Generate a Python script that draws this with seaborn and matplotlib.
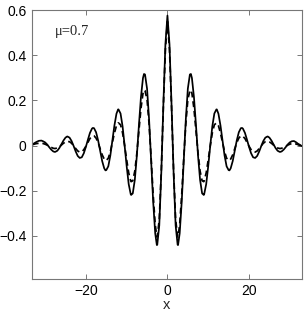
import matplotlib
matplotlib.use("Agg")
import matplotlib.pyplot as plt
import seaborn as sns
import pandas as pd

# values
x = [-33.0, -32.5, -32.0, -31.5, -31.0, -30.9, -30.5, -30.0, -29.5, -29.0, -28.5, -28.0, -27.7,
     -27.5, -27.0, -26.5, -26.0, -25.5, -25.0, -24.6, -24.5, -24.0, -23.5, -23.0, -22.5, -22.0,
     -21.5, -21.0, -20.5, -20.0, -19.5, -19.0, -18.5, -18.3, -18.0, -17.5, -17.0, -16.5, -16.0,
     -15.5, -15.2, -15.0, -14.5, -14.0, -13.5, -13.0, -12.5, -12.1, -12.0, -11.5, -11.0, -10.5,
     -10.0, -9.5, -9.0, -8.9, -8.5, -8.0, -7.5, -7.0, -6.5, -6.0, -5.75, -5.5, -5.0, -4.5, -4.0,
     -3.5, -3.0, -2.6, -2.5, -2.0, -1.5, -1.0, -0.5,
     0.0,
     0.5, 1.0, 1.5, 2.0, 2.5, 2.6, 3.0, 3.5, 4.0, 4.5, 5.0, 5.5, 5.75, 6.0, 6.5, 7.0, 7.5, 8.0,
     8.5, 8.9, 9.0, 9.5, 10.0, 10.5, 11.0, 11.5, 12.0, 12.1, 12.5, 13.0, 13.5, 14.0, 14.5, 15.0,
     15.2, 15.5, 16.0, 16.5, 17.0, 17.5, 18.0, 18.3, 18.5, 19.0, 19.5, 20.0, 20.5, 21.0, 21.5,
     22.0, 22.5, 23.0, 23.5, 24.0, 24.5, 24.6, 25.0, 25.5, 26.0, 26.5, 27.0, 27.5, 27.7, 28.0,
     28.5, 29.0, 29.5, 30.0, 30.5, 30.9, 31.0, 31.5, 32.0, 32.5, 33.0]

solid = [0.006, 0.012, 0.017, 0.021, 0.022, 0.022, 0.019, 0.014, 0.005, -0.007, -0.018, -0.026, -0.028,
         -0.028, -0.023, -0.011, 0.005, 0.022, 0.035, 0.040, 0.040, 0.035, 0.020, -0.002, -0.026, -0.046,
         -0.055, -0.052, -0.034, -0.006, 0.026, 0.056, 0.075, 0.078, 0.077, 0.059, 0.023, -0.024, -0.069,
         -0.101, -0.110, -0.109, -0.092, -0.044, 0.021, 0.089, 0.141, 0.160, 0.160, 0.142, 0.085, 0.000,
         -0.091, -0.171, -0.216, -0.219, -0.212, -0.152, -0.045, 0.089, 0.214, 0.299, 0.317, 0.315, 0.252,
         0.115, -0.066, -0.249, -0.389, -0.441, -0.440, -0.353, -0.117, 0.183, 0.449,
         0.576,
         0.449, 0.183, -0.117, -0.353, -0.440, -0.441, -0.389, -0.249, -0.066, 0.115, 0.252, 0.315, 0.317,
         0.299, 0.214, 0.089, -0.045, -0.152, -0.212, -0.219, -0.216, -0.171, -0.091, 0.000, 0.085, 0.142,
         0.160, 0.160, 0.141, 0.089, 0.021, -0.044, -0.092, -0.109, -0.110, -0.101, -0.069, -0.024, 0.023,
         0.059, 0.077, 0.078, 0.075, 0.056, 0.026, -0.006, -0.034, -0.052, -0.055, -0.046, -0.026, -0.002,
         0.020, 0.035, 0.040, 0.040, 0.035, 0.022, 0.005, -0.011, -0.023, -0.028, -0.028, -0.026, -0.018,
         -0.007, 0.005, 0.014, 0.019, 0.020, 0.020, 0.015, 0.008, 0.003, -0.003]

dashed = [0.004, 0.007, 0.009, 0.010, 0.010, 0.010, 0.009, 0.006, 0.002, -0.003, -0.008, -0.012, -0.013,
          -0.013, -0.011, -0.005, 0.002, 0.010, 0.016, 0.019, 0.018, 0.017, 0.010, -0.001, -0.013, -0.024,
          -0.029, -0.028, -0.018, -0.003, 0.014, 0.031, 0.041, 0.043, 0.043, 0.033, 0.013, -0.014, -0.041,
          -0.060, -0.066, -0.066, -0.056, -0.027, 0.013, 0.055, 0.088, 0.100, 0.100, 0.092, 0.056, 0.000,
          -0.063, -0.121, -0.157, -0.160, -0.156, -0.113, -0.034, 0.067, 0.163, 0.231, 0.246, 0.243, 0.204,
          0.096, -0.056, -0.218, -0.350, -0.405, -0.404, -0.327, -0.109, 0.172, 0.426,
          0.550,
          0.426, 0.172, -0.109, -0.327, -0.404, -0.405, -0.350, -0.218, -0.056, 0.096, 0.204, 0.243, 0.246,
          0.231, 0.163, 0.067, -0.034, -0.113, -0.156, -0.160, -0.157, -0.121, -0.063, 0.000, 0.056, 0.092,
          0.100, 0.100, 0.088, 0.055, 0.013, -0.027, -0.056, -0.066, -0.066, -0.060, -0.041, -0.014, 0.013,
          0.033, 0.043, 0.043, 0.041, 0.031, 0.014, -0.003, -0.018, -0.028, -0.029, -0.024, -0.013, -0.001,
          0.010, 0.017, 0.018, 0.019, 0.016, 0.010, 0.002, -0.005, -0.011, -0.013, -0.013, -0.012, -0.008,
          -0.003, 0.002, 0.006, 0.009, 0.009, 0.009, 0.007, 0.004, 0.000, -0.004]

x_ticks = [-20, 0, 20]
x_ticklabels = ["\u221220", "0", "20"]
y_ticks = [-0.4, -0.2, 0, 0.2, 0.4, 0.6]
y_ticklabels = ["\u22120.4", "\u22120.2", "0", "0.2", "0.4", "0.6"]

df = pd.DataFrame({"x": x, "solid": solid, "dashed": dashed})

sns.set_theme(style="white")
plt.rcParams["font.family"] = ["Liberation Sans", "DejaVu Sans"]

fig = plt.figure(figsize=(3.05, 3.16), dpi=100)
ax = fig.add_axes([0.105, 0.118, 0.884, 0.850])

sns.lineplot(data=df, x="x", y="solid", color="black", linewidth=1.25, ax=ax)
sns.lineplot(data=df, x="x", y="dashed", color="black", linewidth=1.25,
             linestyle=(0, (3.4, 2.2)), ax=ax)

ax.set_xlim(-33.2, 32.9)
ax.set_ylim(-0.59, 0.6)
ax.set_xticks(x_ticks)
ax.set_xticklabels(x_ticklabels)
ax.set_yticks(y_ticks)
ax.set_yticklabels(y_ticklabels)
ax.tick_params(direction="in", length=3.5, width=0.7, color="#777777",
               labelsize=10, labelcolor="black", top=True, right=True,
               left=True, bottom=True, pad=4)
for s in ax.spines.values():
    s.set_color("#777777")
    s.set_linewidth(0.8)

ax.set_xlabel("x", fontsize=10.5, labelpad=0)
ax.set_ylabel("")
ax.text(-27.6, 0.505, "\u03bc=0.7", fontsize=10.5, family=["Liberation Serif", "DejaVu Serif"],
        ha="left", va="center")

fig.savefig("out.png", dpi=100)
